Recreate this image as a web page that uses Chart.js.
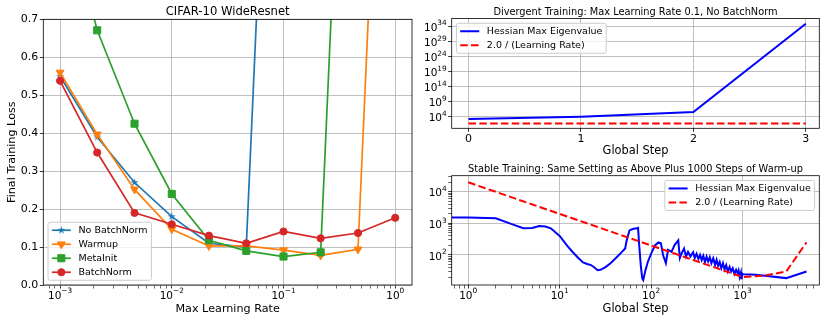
<!DOCTYPE html>
<html>
<head>
<meta charset="utf-8">
<script src="https://cdn.jsdelivr.net/npm/chart.js@4.4.1/dist/chart.umd.min.js"></script>
<style>
  html, body { margin: 0; padding: 0; background: #fff; }
  body { width: 830px; height: 323px; position: relative; overflow: hidden; }
  canvas { position: absolute; }
  #graphLoss  { left: 0;     top: 0;     }
  #graphDiv   { left: 418px; top: 0;     }
  #graphStab  { left: 418px; top: 160px; }
</style>
</head>
<body>
<canvas id="graphLoss" width="418" height="323"></canvas>
<canvas id="graphDiv" width="412" height="160"></canvas>
<canvas id="graphStab" width="412" height="163"></canvas>
<script>
// ---- Left panel : final training loss vs max learning rate ----
const learningRates = [0.001, 0.00215, 0.00464, 0.01, 0.0215, 0.0464, 0.1, 0.215, 0.464, 1.0];
const lossNoBatchNorm = [0.55, 0.39, 0.27, 0.18, 0.11, 0.10, 2.3, 2.3, 2.3, 2.3];
const lossWarmup      = [0.56, 0.397, 0.252, 0.147, 0.103, 0.103, 0.092, 0.078, 0.094, 2.3];
const lossMetaInit    = [1.05, 0.671, 0.425, 0.24, 0.118, 0.09, 0.075, 0.086, 2.3, 2.3];
const lossBatchNorm   = [0.538, 0.349, 0.19, 0.16, 0.13, 0.11, 0.141, 0.123, 0.137, 0.177];
const lossLabels = ['No BatchNorm', 'Warmup', 'MetaInit', 'BatchNorm'];
const lrTicks = [0.001, 0.01, 0.1, 1];
const lrTickLabels = ['10⁻³', '10⁻²', '10⁻¹', '10⁰'];
const lossTicks = [0, 0.1, 0.2, 0.3, 0.4, 0.5, 0.6, 0.7];
const lossTickLabels = ['0.0', '0.1', '0.2', '0.3', '0.4', '0.5', '0.6', '0.7'];

// ---- Top right : divergent training ----
const divSteps = [0, 1, 2, 3];
const divEigen = [1700, 1.0e4, 3.7e5, 6e34];
const divTwoOverLr = [60, 60, 60, 60];
const divStepTicks = [0, 1, 2, 3];
const divStepLabels = ['0', '1', '2', '3'];
const divEigTicks = [1e4, 1e9, 1e14, 1e19, 1e24, 1e29, 1e34];
const divEigLabels = ['10⁴', '10⁹', '10¹⁴', '10¹⁹', '10²⁴', '10²⁹', '10³⁴'];

// ---- Bottom right : stable training with warm-up ----
const stabSteps = [0, 1, 2, 3, 4, 5, 6, 7, 8, 10, 12, 14, 16, 18, 20, 22, 24, 26, 28, 32, 36, 42, 48,
  52, 54, 58, 62, 66, 70, 72, 74, 77, 80, 82, 86, 92, 100, 110, 120, 128, 135, 145, 153, 167, 181,
  198, 206, 215, 229, 241, 253, 269, 288, 300, 314, 329, 343, 357, 372, 388, 404, 420, 438, 456,
  478, 500, 520, 540, 562, 585, 610, 635, 662, 690, 720, 750, 780, 815, 850, 885, 905, 930, 960,
  975, 990, 1020, 1400, 3000, 5000];
const stabEigen = [1550, 1550, 1450, 950, 700, 720, 820, 800, 700, 400, 200, 120, 80, 58, 52, 48, 40, 33, 34, 42, 55, 85, 125,
  160, 290, 600, 650, 690, 700, 720, 210, 48, 18, 16, 30, 60, 110, 200, 250, 235, 100, 55, 145, 125, 210,
  290, 80, 112, 160, 89, 126, 89, 123, 80, 110, 75, 100, 69, 95, 60, 89, 62, 85, 55,
  79, 48, 70, 45, 60, 38, 55, 35, 48, 30, 42, 30, 38, 25, 34, 26, 32, 20, 28,
  17, 26, 24.5, 23.5, 18.5, 30];
const lrSteps = [1, 10, 100, 1000, 1700, 3000, 5000];
const lrTwoOverLr = [20000, 2000, 200, 20, 22, 30, 250];
const stabStepTicks = [1, 10, 100, 1000];
const stabStepLabels = ['10⁰', '10¹', '10²', '10³'];
const stabEigTicks = [100, 1000, 10000];
const stabEigLabels = ['10²', '10³', '10⁴'];

const POLICE = '"DejaVu Sans", sans-serif';
Chart.defaults.font.family = POLICE;
Chart.defaults.color = '#000';

// minor ticks (2..9 x 10^k) between two bounds
function minorTicks(lo, hi) {
  const out = [];
  for (let k = Math.floor(Math.log10(lo)); k <= Math.ceil(Math.log10(hi)); k++) {
    for (let m = 2; m <= 9; m++) {
      const v = m * Math.pow(10, k);
      if (v >= lo && v <= hi) out.push(v);
    }
  }
  return out;
}

function findIndex(value, ticks) {
  for (let i = 0; i < ticks.length; i++) {
    if (Math.abs(value - ticks[i]) <= Math.abs(ticks[i]) * 1e-6 + 1e-12) return i;
  }
  return -1;
}

// axis builder : matplotlib-like ticks and grid
function axis(opt) {
  const majors = opt.ticks;
  const minors = opt.minors || [];
  const isMajor = v => findIndex(v, majors) >= 0;
  return {
    type: opt.type,
    position: opt.position,
    min: opt.min,
    max: opt.max,
    afterBuildTicks: s => {
      s.ticks = majors.concat(minors).sort((a, b) => a - b).map(v => ({ value: v }));
    },
    afterFit: s => {
      if (opt.position === 'left') s.width = opt.size; else s.height = opt.size;
    },
    ticks: {
      autoSkip: false,
      maxRotation: 0,
      padding: opt.pad,
      font: { size: 11 },
      color: '#000',
      // powers of ten are drawn by the "exposants" plugin
      callback: v => {
        const i = findIndex(v, majors);
        return (i < 0 || opt.expo) ? '' : opt.labels[i];
      }
    },
    grid: {
      color: c => (c.tick && isMajor(c.tick.value)) ? '#b0b0b0' : 'rgba(0,0,0,0)',
      lineWidth: 0.8,
      tickColor: '#000',
      tickWidth: c => (c.tick && isMajor(c.tick.value)) ? 0.8 : 0.6,
      tickLength: 3.5
    },
    border: { display: false },
    title: opt.title ? {
      display: true,
      text: opt.title,
      font: { size: opt.titleSize },
      color: '#000',
      padding: opt.titlePad
    } : { display: false }
  };
}

// black frame around the plotting area
const cadre = {
  id: 'cadre',
  afterDatasetsDraw(chart) {
    const a = chart.chartArea;
    const ctx = chart.ctx;
    ctx.save();
    ctx.strokeStyle = '#000';
    ctx.lineWidth = 0.8;
    ctx.strokeRect(a.left, a.top, a.right - a.left, a.bottom - a.top);
    ctx.restore();
  }
};

// tick labels "10^n" with a raised, smaller exponent
const NORMAL = { '⁻': '−', '⁰': '0', '¹': '1', '²': '2', '³': '3', '⁴': '4', '⁵': '5', '⁶': '6', '⁷': '7', '⁸': '8', '⁹': '9' };
function puissance(ctx, label, x, y, align, f) {
  const base = label.slice(0, 2);
  const exp = label.slice(2).split('').map(c => NORMAL[c] || c).join('');
  ctx.font = f + 'px ' + POLICE;
  const wb = ctx.measureText(base).width;
  ctx.font = (0.7 * f) + 'px ' + POLICE;
  const we = ctx.measureText(exp).width;
  const x0 = align === 'center' ? x - (wb + we) / 2 : x - wb - we;
  ctx.font = f + 'px ' + POLICE;
  ctx.fillText(base, x0, y);
  ctx.font = (0.7 * f) + 'px ' + POLICE;
  ctx.fillText(exp, x0 + wb, y - 0.5 * f);
}

const exposants = {
  id: 'exposants',
  afterDraw(chart, args, opts) {
    const ctx = chart.ctx;
    const a = chart.chartArea;
    const f = 10.5;
    ctx.save();
    ctx.fillStyle = '#000';
    ctx.textAlign = 'left';
    ctx.textBaseline = 'alphabetic';
    if (opts.x) {
      const s = chart.scales.x;
      opts.x.ticks.forEach((t, i) => puissance(ctx, opts.x.labels[i], s.getPixelForValue(t), a.bottom + 13.6, 'center', f));
    }
    if (opts.y) {
      const s = chart.scales.y;
      opts.y.ticks.forEach((t, i) => puissance(ctx, opts.y.labels[i], a.left - 5, s.getPixelForValue(t) + 4.6, 'right', f));
    }
    ctx.restore();
  }
};

// matplotlib-style legend box
const legende = {
  id: 'legende',
  afterDraw(chart, args, opts) {
    const ctx = chart.ctx;
    const a = chart.chartArea;
    const fs = opts.fontSize;
    const sets = chart.data.datasets;
    ctx.save();
    ctx.font = fs + 'px ' + POLICE;
    const textW = Math.max(...sets.map(d => ctx.measureText(d.label).width));
    const pad = 0.4 * fs, handle = 2 * fs, gap = 0.8 * fs, pitch = opts.pitch;
    const w = 2 * pad + handle + gap + textW;
    const h = pitch + 2 + (sets.length - 1) * pitch;
    const m = 0.5 * fs;
    const x = opts.loc.includes('left') ? a.left + m : a.right - m - w;
    const y = opts.loc.includes('upper') ? a.top + m : a.bottom - m - h;
    ctx.beginPath();
    ctx.roundRect(x, y, w, h, 2);
    ctx.fillStyle = 'rgba(255,255,255,0.8)';
    ctx.fill();
    ctx.strokeStyle = '#cccccc';
    ctx.lineWidth = 1;
    ctx.stroke();
    sets.forEach((d, i) => {
      const cy = y + pitch / 2 + 1 + i * pitch;
      ctx.save();
      ctx.strokeStyle = d.borderColor;
      ctx.lineWidth = d.borderWidth;
      ctx.setLineDash(d.borderDash || []);
      ctx.beginPath();
      ctx.moveTo(x + pad, cy);
      ctx.lineTo(x + pad + handle, cy);
      ctx.stroke();
      ctx.restore();
      if (d.pointRadius > 0) {
        ctx.save();
        ctx.fillStyle = d.pointBackgroundColor;
        ctx.strokeStyle = d.pointBorderColor;
        ctx.lineWidth = d.pointBorderWidth;
        Chart.helpers.drawPoint(ctx, {
          pointStyle: d.pointStyle, rotation: d.pointRotation || 0,
          radius: d.pointRadius, borderWidth: d.pointBorderWidth
        }, x + pad + handle / 2, cy);
        ctx.restore();
      }
      ctx.fillStyle = '#000';
      ctx.textBaseline = 'middle';
      ctx.textAlign = 'left';
      ctx.fillText(d.label, x + pad + handle + gap, cy + 0.5);
    });
    ctx.restore();
  }
};

// filled five-point star, like matplotlib '*'
function etoile(couleur, r) {
  const c = document.createElement('canvas');
  const s = Math.ceil(2 * r + 2);
  c.width = s; c.height = s;
  const g = c.getContext('2d');
  g.beginPath();
  for (let k = 0; k < 10; k++) {
    const rr = k % 2 ? r * 0.382 : r;
    const ang = -Math.PI / 2 + k * Math.PI / 5;
    g.lineTo(s / 2 + rr * Math.cos(ang), s / 2 + rr * Math.sin(ang));
  }
  g.closePath();
  g.fillStyle = couleur;
  g.fill();
  return c;
}

function serie(label, valeurs, couleur, style, rayon, ordre, extra) {
  return Object.assign({
    label: label,
    data: valeurs.map((v, i) => ({ x: learningRates[i], y: v })),
    borderColor: couleur,
    backgroundColor: couleur,
    borderWidth: 1.7,
    pointStyle: style,
    pointRadius: rayon,
    pointBackgroundColor: couleur,
    pointBorderColor: couleur,
    pointBorderWidth: 1,
    tension: 0,
    order: ordre
  }, extra || {});
}

function titre(texte, taille, haut, bas) {
  return { display: true, text: texte, color: '#000', fullSize: false,
           font: { size: taille, weight: 'normal' }, padding: { top: haut, bottom: bas } };
}

const communs = {
  responsive: false,
  animation: false,
  devicePixelRatio: 1,
  events: []
};

// ---------------- left chart ----------------
new Chart(document.getElementById('graphLoss'), {
  type: 'line',
  data: {
    datasets: [
      serie(lossLabels[0], lossNoBatchNorm, '#1f77b4', etoile('#1f77b4', 4.2), 4, 4),
      serie(lossLabels[1], lossWarmup, '#ff7f0e', 'triangle', 4.6, 3, { pointRotation: 180 }),
      serie(lossLabels[2], lossMetaInit, '#2ca02c', 'rect', 5, 2),
      serie(lossLabels[3], lossBatchNorm, '#d62728', 'circle', 3.6, 1)
    ]
  },
  options: Object.assign({}, communs, {
    layout: { padding: { left: 0, right: 3, top: 0, bottom: 0 } },
    plugins: {
      legend: { display: false },
      tooltip: { enabled: false },
      title: titre('CIFAR-10 WideResnet', 11.6, 5, 0.4),
      legende: { loc: 'lower left', fontSize: 9.5, pitch: 14 },
      exposants: { x: { ticks: lrTicks, labels: lrTickLabels } }
    },
    scales: {
      x: axis({ type: 'logarithmic', position: 'bottom', min: Math.pow(10, -3.15), max: Math.pow(10, 0.15),
                ticks: lrTicks, labels: lrTickLabels, minors: minorTicks(Math.pow(10, -3.15), Math.pow(10, 0.15)),
                expo: true, size: 38, pad: 1.5, title: 'Max Learning Rate', titleSize: 11.2, titlePad: { top: 0, bottom: 7.4 } }),
      y: axis({ type: 'linear', position: 'left', min: 0, max: 0.7,
                ticks: lossTicks, labels: lossTickLabels, size: 43.3, pad: 1.5,
                title: 'Final Training Loss', titleSize: 11.2, titlePad: { top: 5, bottom: 0 } })
    }
  }),
  plugins: [cadre, exposants, legende]
});

// ---------------- top right chart ----------------
new Chart(document.getElementById('graphDiv'), {
  type: 'line',
  data: {
    datasets: [
      { label: 'Hessian Max Eigenvalue', data: divSteps.map((s, i) => ({ x: s, y: divEigen[i] })),
        borderColor: '#0000ff', borderWidth: 2, pointRadius: 0, tension: 0, order: 2 },
      { label: '2.0 / (Learning Rate)', data: divSteps.map((s, i) => ({ x: s, y: divTwoOverLr[i] })),
        borderColor: '#ff0000', borderWidth: 2, borderDash: [7.5, 3.3], pointRadius: 0, tension: 0, order: 1 }
    ]
  },
  options: Object.assign({}, communs, {
    layout: { padding: { left: 0, right: 10.7, top: 0, bottom: 0 } },
    plugins: {
      legend: { display: false },
      tooltip: { enabled: false },
      title: titre('Divergent Training: Max Learning Rate 0.1, No BatchNorm', 9.8, 6.5, 0.24),
      legende: { loc: 'upper left', fontSize: 9.5, pitch: 14 },
      exposants: { y: { ticks: divEigTicks, labels: divEigLabels } }
    },
    scales: {
      x: axis({ type: 'linear', position: 'bottom', min: -0.15, max: 3.12,
                ticks: divStepTicks, labels: divStepLabels, size: 31.7, pad: 0.5,
                title: 'Global Step', titleSize: 11.4, titlePad: { top: 0, bottom: 2.4 } }),
      y: axis({ type: 'logarithmic', position: 'left', min: Math.pow(10, 0.15), max: Math.pow(10, 36.5),
                ticks: divEigTicks, labels: divEigLabels, expo: true, size: 33.7, pad: 1.5 })
    }
  }),
  plugins: [cadre, exposants, legende]
});

// ---------------- bottom right chart ----------------
new Chart(document.getElementById('graphStab'), {
  type: 'line',
  data: {
    datasets: [
      { label: 'Hessian Max Eigenvalue', data: stabSteps.map((s, i) => ({ x: s, y: stabEigen[i] })),
        borderColor: '#0000ff', borderWidth: 2, pointRadius: 0, tension: 0, order: 2 },
      { label: '2.0 / (Learning Rate)', data: lrSteps.map((s, i) => ({ x: s, y: lrTwoOverLr[i] })),
        borderColor: '#ff0000', borderWidth: 2, borderDash: [7.5, 3.3], pointRadius: 0, tension: 0, order: 1 }
    ]
  },
  options: Object.assign({}, communs, {
    layout: { padding: { left: 0, right: 10.7, top: 0, bottom: 0 } },
    plugins: {
      legend: { display: false },
      tooltip: { enabled: false },
      title: titre('Stable Training: Same Setting as Above Plus 1000 Steps of Warm-up', 9.8, 3.9, 0.04),
      legende: { loc: 'upper right', fontSize: 9.5, pitch: 14 },
      exposants: { x: { ticks: stabStepTicks, labels: stabStepLabels }, y: { ticks: stabEigTicks, labels: stabEigLabels } }
    },
    scales: {
      x: axis({ type: 'logarithmic', position: 'bottom', min: 0.66, max: 6900,
                ticks: stabStepTicks, labels: stabStepLabels, minors: minorTicks(0.66, 6900), expo: true, size: 38, pad: 1.5,
                title: 'Global Step', titleSize: 11.4, titlePad: { top: 0, bottom: 7.4 } }),
      y: axis({ type: 'logarithmic', position: 'left', min: 11.2, max: 32400,
                ticks: stabEigTicks, labels: stabEigLabels, minors: minorTicks(11.2, 32400), expo: true, size: 33.7, pad: 1.5 })
    }
  }),
  plugins: [cadre, exposants, legende]
});
</script>
</body>
</html>
